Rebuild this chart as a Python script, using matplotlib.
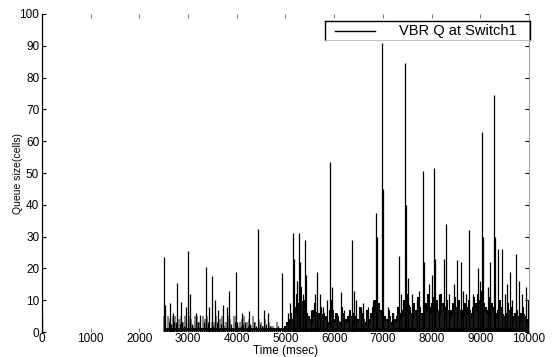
import numpy as np
import matplotlib
matplotlib.use("Agg")
import matplotlib.pyplot as plt
from matplotlib.lines import Line2D

# ---- data ----
x_ticks = [0, 1000, 2000, 3000, 4000, 5000, 6000, 7000, 8000, 9000, 10000]
y_ticks = [0, 10, 20, 30, 40, 50, 60, 70, 80, 90, 100]

# dense background activity, 2500-5000 ms (one value every 40 ms)
bg1_start, bg1_step = 2500, 40
bg1_vals = [5, 1, 5, 4, 2, 5, 5, 1, 4, 5,
            3, 5, 0, 5, 4, 2, 5, 5, 3, 1,
            5, 4, 5, 2, 0, 3, 3, 5, 1, 4,
            5, 2, 3, 5, 4, 1, 5, 5, 2, 3,
            4, 5, 1, 3, 4, 2, 5, 3, 1, 4,
            3, 2, 4, 1, 3, 2, 2, 1, 3, 1,
            0, 1, 2]

# dense background activity, 5000-10000 ms (one value every 40 ms)
bg2_start, bg2_step = 5000, 40
bg2_vals = [2, 3, 4, 6, 3, 8, 12, 9, 14, 7, 10, 6, 5, 4, 7, 9, 5, 6, 8, 4, 6, 5, 3, 7, 10,
            4, 6, 5, 3, 8, 6, 4, 5, 7, 3, 6, 5, 4, 8, 5, 6, 3, 7, 4, 6, 8, 10, 12, 9, 7,
            6, 5, 4, 7, 3, 6, 4, 5, 8, 6, 7, 10, 9, 12, 8, 6, 9, 7, 11, 8, 6, 10, 9, 12, 8,
            9, 11, 8, 10, 7, 12, 9, 8, 10, 6, 7, 9, 11, 8, 10, 6, 7, 9, 8, 10, 6, 8, 11, 9, 12,
            10, 13, 9, 8, 7, 11, 9, 8, 6, 7, 10, 8, 5, 6, 9, 7, 8, 5, 6, 7, 4, 6, 8, 5, 4]

# individual spikes (time ms, queue cells)
spike_t = [0, 2510, 2530, 2620, 2700, 2772, 2860, 2960, 3000, 3030, 3160, 3250,
           3368, 3420, 3490, 3560, 3620, 3717, 3790, 3840, 3984, 4100, 4250,
           4435, 4560, 4650, 4928,
           5060, 5100, 5154, 5180, 5230, 5277, 5300, 5350, 5400, 5430, 5520,
           5600, 5647, 5700, 5760, 5850, 5914, 5950, 6050, 6140, 6200, 6300,
           6366, 6400, 6450, 6550, 6600, 6700, 6800, 6858, 6880, 6982, 7000,
           7100, 7200, 7330, 7380, 7454, 7480, 7515, 7600, 7700, 7750, 7823,
           7850, 7950, 8000, 8050, 8070, 8150, 8250, 8296, 8350, 8450, 8521,
           8604, 8650, 8700, 8768, 8850, 8950, 9000, 9035, 9060, 9150, 9200,
           9281, 9300, 9363, 9445, 9500, 9550, 9610, 9650, 9733, 9800, 9850,
           9938, 9980]
spike_v = [5.5, 23.5, 8.5, 9, 6, 15.5, 9.5, 8, 25.5, 12, 6, 5.5,
           20.5, 8, 17.5, 10, 7, 8.5, 8, 13, 18.8, 6, 6.5,
           32.5, 7, 6, 18.5,
           6, 9, 31, 23, 16, 31, 22, 12, 29, 18, 7,
           12, 19, 12, 8, 10, 53.5, 14, 6, 12.5, 7, 6,
           29, 13, 10, 8, 9, 8, 10, 37.5, 30, 91, 45,
           8, 6, 24, 12, 84.5, 40, 17, 12, 10, 13, 50.5,
           22, 15, 18, 51.5, 23, 12, 23, 34, 12, 15, 22.5,
           22, 13, 12, 32, 12, 20, 16, 63, 30, 14, 22,
           74.5, 30, 26, 26, 12, 15, 19, 10, 24.5, 16, 12,
           14, 10]

base_t = [2500, 10000]
base_v = 0.8

legend_label = "VBR Q at Switch1"

# ---- figure ----
plt.rcParams['font.family'] = ['Liberation Sans Narrow', 'Liberation Sans', 'DejaVu Sans']
W, H = 553, 357
fig = plt.figure(figsize=(W / 100, H / 100), dpi=100)
ax = fig.add_axes([0.0759, 0.0700, 0.8807, 0.8908])

bg1_t = bg1_start + bg1_step * np.arange(len(bg1_vals))
bg2_t = bg2_start + bg2_step * np.arange(len(bg2_vals))

ax.vlines(bg1_t, 0, bg1_vals, colors='0.45', linewidth=1.2)
ax.vlines(bg1_t + bg1_step / 2, 0, np.array(bg1_vals) * 0.6, colors='black', linewidth=0.9)
ax.vlines(bg2_t, 0, bg2_vals, colors='black', linewidth=1.5)
ax.vlines(bg2_t + bg2_step / 2, 0, np.array(bg2_vals) * 0.7, colors='0.1', linewidth=1.5)
ax.vlines(spike_t, 0, spike_v, colors='black', linewidth=0.9)
ax.hlines(base_v, base_t[0], base_t[1], colors='black', linewidth=2.0)

ax.set_xlim(0, 10000)
ax.set_ylim(0, 100)
ax.set_xticks(x_ticks)
ax.set_yticks(y_ticks)
ax.set_xticklabels([str(v) for v in x_ticks])
ax.set_yticklabels([str(v) for v in y_ticks])
ax.tick_params(direction='in', length=3, width=0.8, labelsize=8.5, pad=2,
               top=True, right=True, colors='black')
ax.tick_params(axis='x', pad=1)
ax.tick_params(axis='x', which='both', top=True, color='0.5')

ax.spines['top'].set_visible(False)
ax.spines['bottom'].set_visible(False)
ax.spines['right'].set_color('0.6')
ax.spines['right'].set_linewidth(0.7)
ax.spines['left'].set_linewidth(0.9)

ax.set_xlabel("Time (msec)", fontsize=8.5, labelpad=0)
ax.set_ylabel("Queue size(cells)", fontsize=7.5, labelpad=-2.5)

# legend box drawn by hand to match the flat box of the original
lx0, lx1, ly0, ly1 = 325 / W, 530 / W, 1 - 40 / H, 1 - 21 / H
fig.add_artist(Line2D([lx0, lx1], [ly1, ly1], color='black', linewidth=1.0, transform=fig.transFigure))
fig.add_artist(Line2D([lx0, lx0], [ly0, ly1], color='black', linewidth=1.0, transform=fig.transFigure))
fig.add_artist(Line2D([lx1, lx1], [ly0, ly1], color='black', linewidth=1.0, transform=fig.transFigure))
fig.add_artist(Line2D([lx0, lx1], [ly0, ly0], color='0.7', linewidth=0.6, transform=fig.transFigure))
fig.add_artist(Line2D([335 / W, 375 / W], [1 - 31 / H, 1 - 31 / H], color='black',
                      linewidth=1.0, transform=fig.transFigure))
fig.text(399 / W, 1 - 30.5 / H, legend_label, ha='left', va='center', fontsize=10.5,
         family=['Liberation Sans', 'DejaVu Sans'])

fig.savefig("out.png", dpi=100)
